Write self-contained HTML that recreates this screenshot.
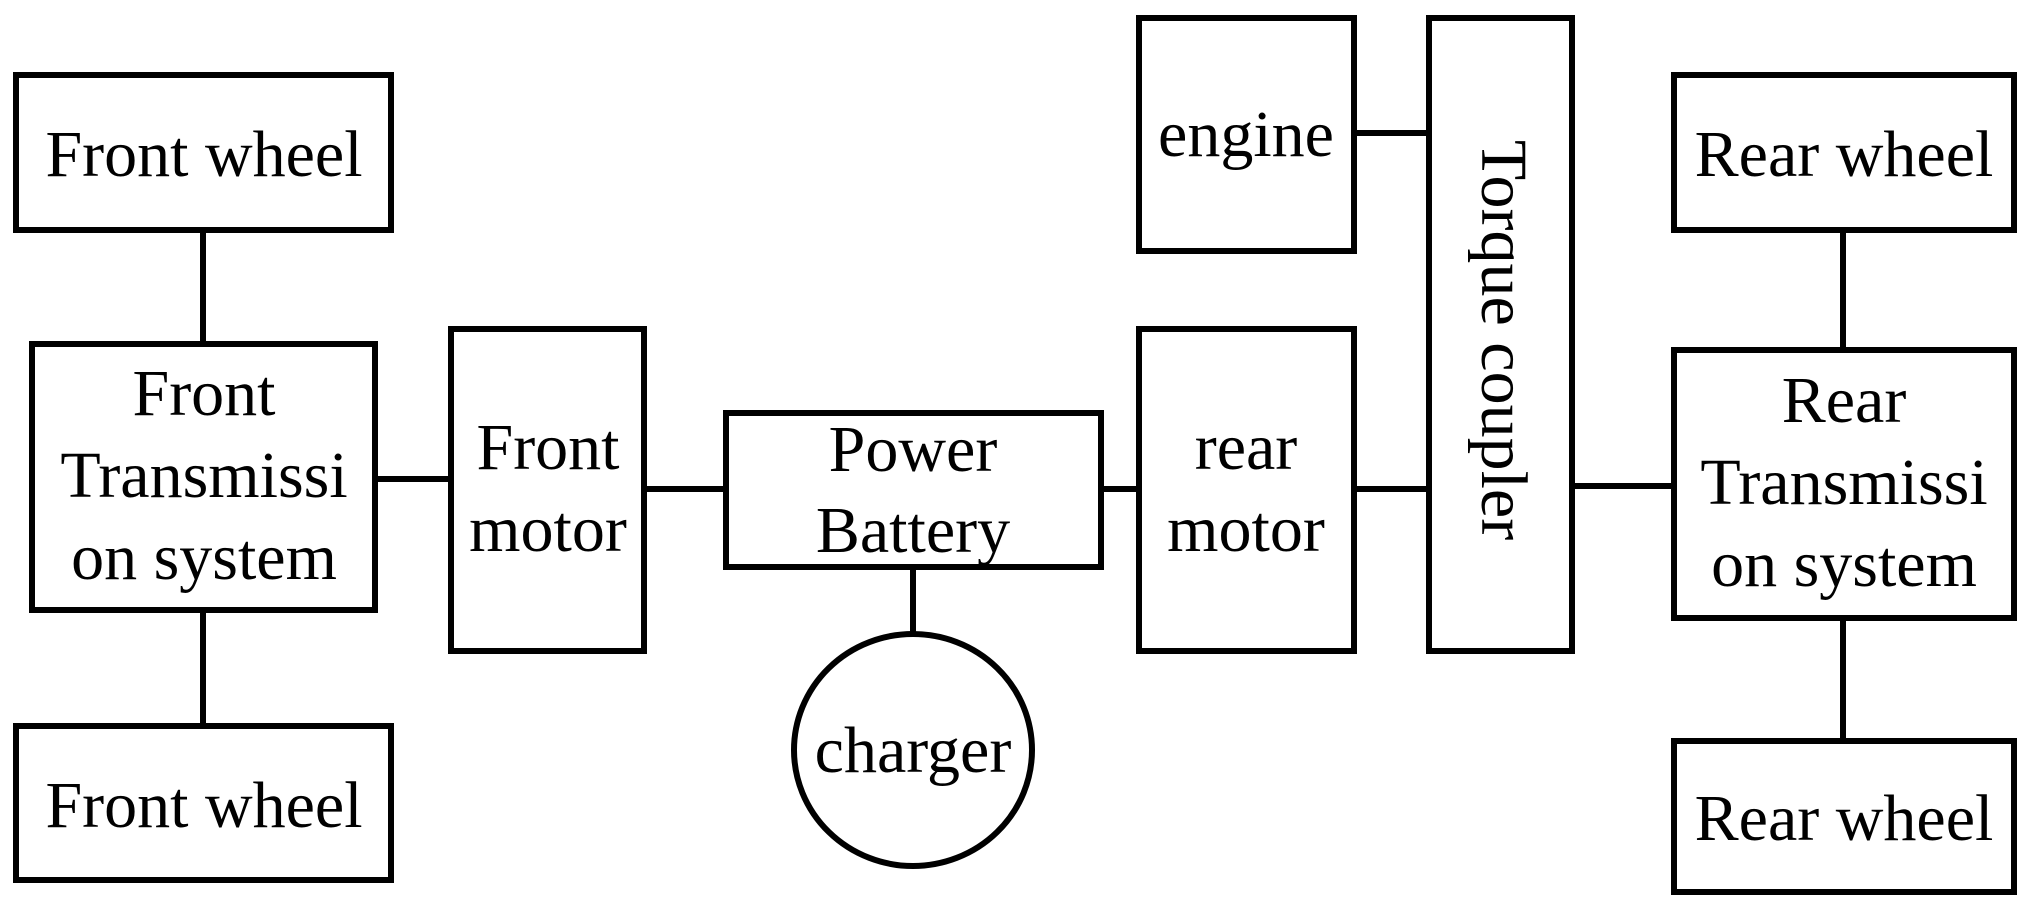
<!DOCTYPE html>
<html><head><meta charset="utf-8"><style>
html,body{margin:0;padding:0;background:#fff;}
svg{display:block;}
text{font-family:"Liberation Serif",serif;font-size:66px;fill:#000;}
</style></head><body>
<svg width="2028" height="905" viewBox="0 0 2028 905" xmlns="http://www.w3.org/2000/svg">
<g fill="none" stroke="#000" stroke-width="6">
<rect x="16" y="75" width="375" height="155"/>
<rect x="32" y="344" width="343" height="266"/>
<rect x="16" y="726" width="375" height="154"/>
<rect x="451" y="329" width="193" height="322"/>
<rect x="726" y="413" width="375" height="154"/>
<ellipse cx="913" cy="750" rx="119" ry="116"/>
<rect x="1139" y="329" width="215" height="322"/>
<rect x="1139" y="18" width="215" height="233"/>
<rect x="1429" y="18" width="143" height="633"/>
<rect x="1674" y="75" width="340" height="155"/>
<rect x="1674" y="350" width="340" height="268"/>
<rect x="1674" y="741" width="340" height="151"/>
<line x1="203" y1="230" x2="203" y2="344"/>
<line x1="203" y1="610" x2="203" y2="726"/>
<line x1="375" y1="479" x2="451" y2="479"/>
<line x1="644" y1="489" x2="726" y2="489"/>
<line x1="913" y1="567" x2="913" y2="634"/>
<line x1="1101" y1="489" x2="1139" y2="489"/>
<line x1="1354" y1="489" x2="1429" y2="489"/>
<line x1="1354" y1="133" x2="1429" y2="133"/>
<line x1="1572" y1="486" x2="1674" y2="486"/>
<line x1="1843" y1="230" x2="1843" y2="350"/>
<line x1="1843" y1="618" x2="1843" y2="741"/>
</g>
<g text-anchor="middle">
<text x="204" y="176">Front wheel</text>
<text x="204" y="827">Front wheel</text>
<text x="204" y="415">Front</text>
<text x="204" y="497">Transmissi</text>
<text x="204" y="579">on system</text>
<text x="548" y="469">Front</text>
<text x="548" y="551">motor</text>
<text x="913" y="471">Power</text>
<text x="913" y="552">Battery</text>
<text x="913" y="772">charger</text>
<text x="1246" y="156">engine</text>
<text x="1246" y="469">rear</text>
<text x="1246" y="551">motor</text>
<text x="1844" y="176">Rear wheel</text>
<text x="1844" y="840">Rear wheel</text>
<text x="1844" y="422">Rear</text>
<text x="1844" y="504">Transmissi</text>
<text x="1844" y="586">on system</text>
<text transform="translate(1482,340) rotate(90)">Torque coupler</text>
</g>
</svg>
</body></html>
